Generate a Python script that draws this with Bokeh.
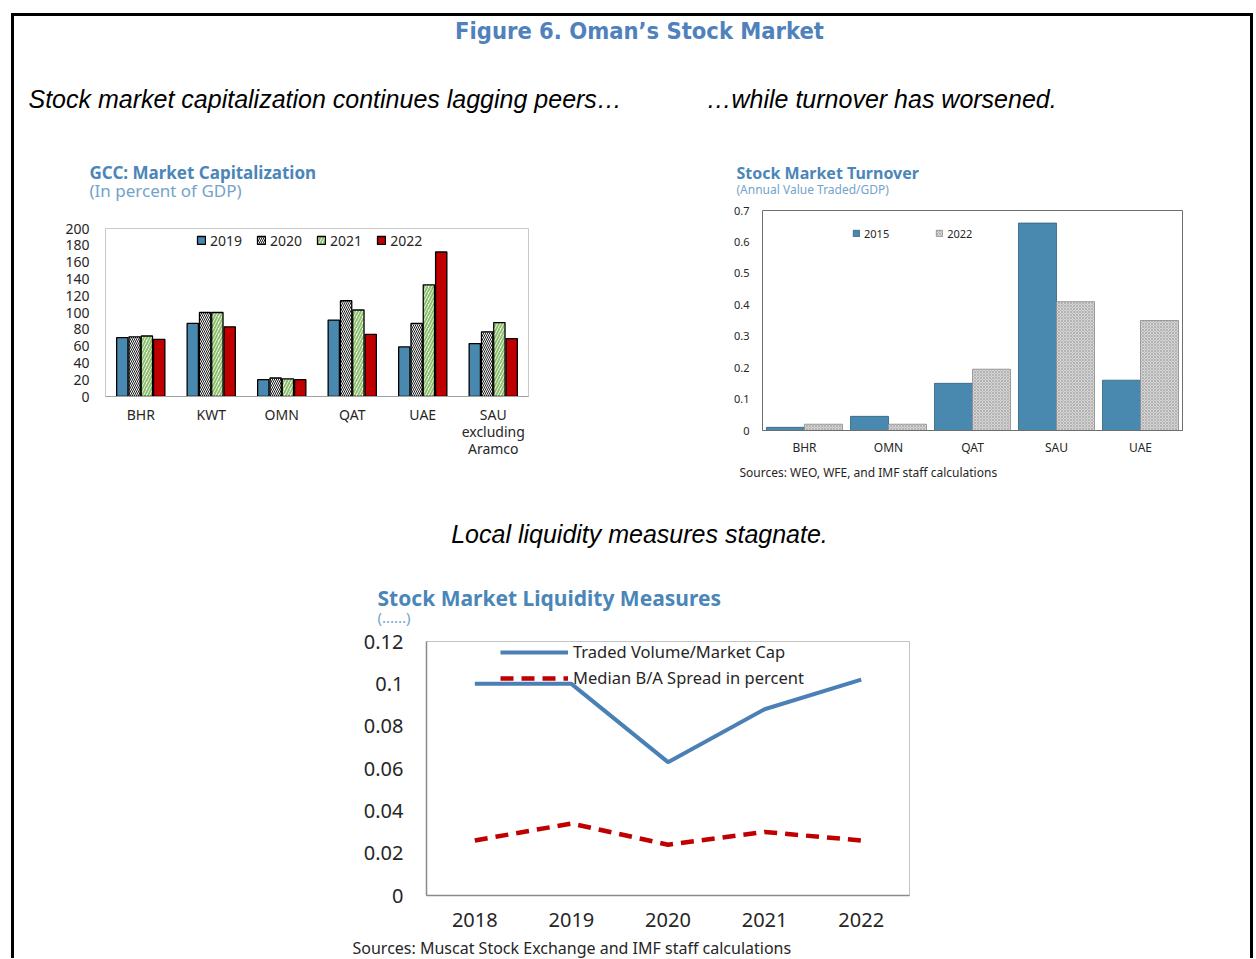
from bokeh.plotting import figure
from bokeh.models import Range1d, FactorRange, ColumnDataSource, CustomJSTickFormatter, FixedTicker
from bokeh.layouts import column, row
from bokeh.transform import dodge
from bokeh.core.properties import value
from bokeh.embed import file_html
from bokeh.resources import INLINE

# ---------------- data ----------------
cap_countries = ["BHR", "KWT", "OMN", "QAT", "UAE", "SAU\nexcluding\nAramco"]
cap_years = ["2019", "2020", "2021", "2022"]
cap_2019 = [70, 87, 20, 91, 59, 63]
cap_2020 = [71, 100, 22, 114, 87, 77]
cap_2021 = [72, 100, 21, 103, 133, 88]
cap_2022 = [68, 83, 20, 74, 172, 69]
cap_ticks = [0, 20, 40, 60, 80, 100, 120, 140, 160, 180, 200]

to_countries = ["BHR", "OMN", "QAT", "SAU", "UAE"]
to_years = ["2015", "2022"]
to_2015 = [0.01, 0.045, 0.15, 0.66, 0.16]
to_2022 = [0.02, 0.02, 0.195, 0.41, 0.35]
to_ticks = [0, 0.1, 0.2, 0.3, 0.4, 0.5, 0.6, 0.7]

liq_years = ["2018", "2019", "2020", "2021", "2022"]
liq_traded = [0.100, 0.100, 0.063, 0.088, 0.102]
liq_spread = [0.026, 0.034, 0.024, 0.030, 0.026]
liq_ticks = [0, 0.02, 0.04, 0.06, 0.08, 0.1, 0.12]
liq_names = ["Traded Volume/Market Cap", "Median B/A Spread in percent"]

fig_title = "Figure 6. Oman\u2019s Stock Market"
panel_notes = ["Stock market capitalization continues lagging peers\u2026",
               "\u2026while turnover has worsened.",
               "Local liquidity measures stagnate."]
chart_titles = ["GCC: Market Capitalization", "Stock Market Turnover", "Stock Market Liquidity Measures"]
chart_subtitles = ["(In percent of GDP)", "(Annual Value Traded/GDP)", "(......)"]
sources = ["Sources: WEO, WFE, and IMF staff calculations",
           "Sources: Muscat Stock Exchange and IMF staff calculations"]

TITLE_BLUE = "#4A86B8"
SUB_BLUE = "#74A3CB"
W = 1236
fmt = CustomJSTickFormatter(code="return String(Math.round(tick*1000)/1000);")


def text_fig(h):
    p = figure(width=W, height=h, x_range=Range1d(0, W), y_range=Range1d(h, 0),
               x_axis_type=None, y_axis_type=None, output_backend="svg", toolbar_location=None,
               min_border=0, outline_line_color=None)
    p.xgrid.visible = False
    p.ygrid.visible = False
    p.background_fill_color = "white"
    p.border_fill_color = "white"
    return p


def put_text(p, xs, ys, texts, size, color, font="Noto Sans", style="normal", align="left"):
    p.text(x="x", y="y", text="t", source=ColumnDataSource(dict(x=xs, y=ys, t=texts)),
           text_font=value(font), text_font_size=size, text_color=color,
           text_font_style=style, text_align=align, text_baseline="middle")


def style_axes(p, size, color="#262626", ystand=10, xstand=10):
    p.xgrid.visible = False
    p.ygrid.visible = False
    for ax in (p.xaxis[0], p.yaxis[0]):
        ax.major_label_text_font = "Noto Sans"
        ax.major_label_text_font_size = size
        ax.major_label_text_color = color
        ax.major_tick_line_color = None
        ax.minor_tick_line_color = None
        ax.major_tick_out = 0
        ax.major_tick_in = 0
        ax.minor_tick_out = 0
    p.yaxis[0].major_label_standoff = ystand
    p.xaxis[0].major_label_standoff = xstand
    p.background_fill_color = "white"
    p.border_fill_color = "white"


def style_legend(lg, gw, gh, size, spacing, standoff, lh, loc, horizontal):
    if horizontal:
        lg.orientation = "horizontal"
    lg.location = loc
    lg.glyph_width = gw
    lg.glyph_height = gh
    lg.label_standoff = standoff
    lg.spacing = spacing
    lg.padding = 0
    lg.margin = 0
    lg.label_height = lh
    lg.label_text_font = "Noto Sans"
    lg.label_text_font_size = size
    lg.label_text_color = "#262626"
    lg.background_fill_alpha = 0
    lg.border_line_color = None


# ---------------- header text block (page y 16..202) ----------------
hdr = text_fig(186)
put_text(hdr, [625], [14], [fig_title], "23.5px", "#4F81BD", font="DejaVu Sans Condensed",
         style="bold", align="center")
put_text(hdr, [14, 692], [82, 82], panel_notes[:2], "25px", "black", font="Liberation Sans",
         style="italic")
put_text(hdr, [75], [156], chart_titles[:1], "17px", TITLE_BLUE, style="bold")
put_text(hdr, [722], [156], chart_titles[1:2], "16px", TITLE_BLUE, style="bold")
put_text(hdr, [75], [174], chart_subtitles[:1], "17px", SUB_BLUE)
put_text(hdr, [722], [173], chart_subtitles[1:2], "12px", SUB_BLUE)

# ---------------- chart 1: market capitalization ----------------
src1 = ColumnDataSource(dict(cat=cap_countries, y2019=cap_2019, y2020=cap_2020,
                             y2021=cap_2021, y2022=cap_2022))
p1 = figure(x_range=FactorRange(factors=cap_countries, range_padding=0), y_range=Range1d(0, 200),
            frame_width=423, frame_height=168, min_border_left=91, min_border_right=112,
            min_border_top=26, min_border_bottom=66, output_backend="svg", toolbar_location=None)
style_axes(p1, "14px", ystand=16, xstand=8)
p1.xaxis.major_label_text_line_height = 0.9
p1.yaxis.ticker = FixedTicker(ticks=cap_ticks)
p1.outline_line_color = "#c8c8c8"
p1.yaxis.axis_line_color = None
p1.xaxis.axis_line_color = "#a0a0a0"

offs = [-0.262, -0.087, 0.087, 0.262]
bw = 0.16
p1.vbar(x=dodge("cat", offs[0], range=p1.x_range), top="y2019", width=bw, source=src1,
        fill_color="#4A89AF", line_color="black", line_width=1.3, legend_label=cap_years[0])
p1.vbar(x=dodge("cat", offs[1], range=p1.x_range), top="y2020", width=bw, source=src1,
        fill_color="white", hatch_pattern="\\", hatch_color="black", hatch_scale=4,
        hatch_weight=0.9, line_color="black", line_width=1.3, legend_label=cap_years[1])
p1.vbar(x=dodge("cat", offs[2], range=p1.x_range), top="y2021", width=bw, source=src1,
        fill_color="white", hatch_pattern="/", hatch_color="#8CC06C", hatch_scale=6,
        hatch_weight=2, line_color="black", line_width=1.3, legend_label=cap_years[2])
p1.vbar(x=dodge("cat", offs[3], range=p1.x_range), top="y2022", width=bw, source=src1,
        fill_color="#C00000", line_color="black", line_width=1.3, legend_label=cap_years[3])
style_legend(p1.legend[0], 10, 10, "14px", 14, 4, 20, (91, 146), True)

# ---------------- chart 2: turnover ----------------
src2 = ColumnDataSource(dict(cat=to_countries, y2015=to_2015, y2022=to_2022))
p2 = figure(x_range=FactorRange(factors=to_countries, range_padding=0), y_range=Range1d(0, 0.7),
            frame_width=420, frame_height=220, min_border_left=122, min_border_right=68,
            min_border_top=8, min_border_bottom=32, output_backend="svg", toolbar_location=None)
style_axes(p2, "11px", ystand=13, xstand=8)
p2.xaxis.major_label_text_font_size = "12px"
p2.yaxis.ticker = FixedTicker(ticks=to_ticks)
p2.yaxis.formatter = fmt
p2.outline_line_color = "#6f6f6f"
p2.yaxis.axis_line_color = None
p2.xaxis.axis_line_color = "#6f6f6f"
bw2 = 0.4525
p2.vbar(x=dodge("cat", -bw2 / 2, range=p2.x_range), top="y2015", width=bw2, source=src2,
        fill_color="#4A89AF", line_color="#2E5E7E", line_width=0.8, legend_label=to_years[0])
p2.vbar(x=dodge("cat", bw2 / 2, range=p2.x_range), top="y2022", width=bw2, source=src2,
        fill_color="#D6D6D6", hatch_pattern="x", hatch_color="#9C9C9C", hatch_scale=3,
        hatch_weight=0.6, line_color="#8a8a8a", line_width=0.8, legend_label=to_years[1])
style_legend(p2.legend[0], 8, 8, "11px", 46, 4, 16, (90, 189), True)

# ---------------- middle text block (page y 462..627) ----------------
mid = text_fig(165)
put_text(mid, [725], [10], sources[:1], "12px", "#262626")
put_text(mid, [625], [71], panel_notes[2:], "25px", "black", font="Liberation Sans",
         style="italic", align="center")
put_text(mid, [363], [135], chart_titles[2:], "21px", TITLE_BLUE, style="bold")
put_text(mid, [363], [154], chart_subtitles[2:], "15px", SUB_BLUE)

# ---------------- chart 3: liquidity (page y 627..933) ----------------
src3 = ColumnDataSource(dict(year=liq_years, traded=liq_traded, spread=liq_spread))
p3 = figure(x_range=FactorRange(factors=liq_years, range_padding=0), y_range=Range1d(0, 0.12),
            frame_width=483, frame_height=254, min_border_left=412, min_border_right=341,
            min_border_top=14, min_border_bottom=38, output_backend="svg", toolbar_location=None)
style_axes(p3, "20px", ystand=23, xstand=17)
p3.yaxis.ticker = FixedTicker(ticks=liq_ticks)
p3.yaxis.formatter = fmt
p3.outline_line_color = "#c4c4c4"
p3.yaxis.axis_line_color = "#8a8a8a"
p3.xaxis.axis_line_color = "#8a8a8a"
p3.yaxis.axis_line_width = 1.5
p3.xaxis.axis_line_width = 1.5
p3.line(x="year", y="traded", source=src3, line_color="#4A80B5", line_width=4,
        legend_label=liq_names[0])
p3.line(x="year", y="spread", source=src3, line_color="#C00000", line_width=4.5,
        line_dash="13 8", legend_label=liq_names[1])
style_legend(p3.legend[0], 68, 20, "16.5px", 3, 5, 20, (74, 206), False)

# ---------------- bottom text block (page y 933..958) ----------------
bot = text_fig(25)
put_text(bot, [338], [14], sources[1:], "16px", "#262626")

layout = column(column(hdr), row(column(p1), column(p2)), column(mid), column(p3), column(bot),
                styles={"margin-top": "13px", "margin-left": "11px",
                        "border-top": "3px solid black", "border-left": "3px solid black",
                        "border-right": "3px solid black"})

open("out.html", "w").write(file_html(layout, INLINE))
